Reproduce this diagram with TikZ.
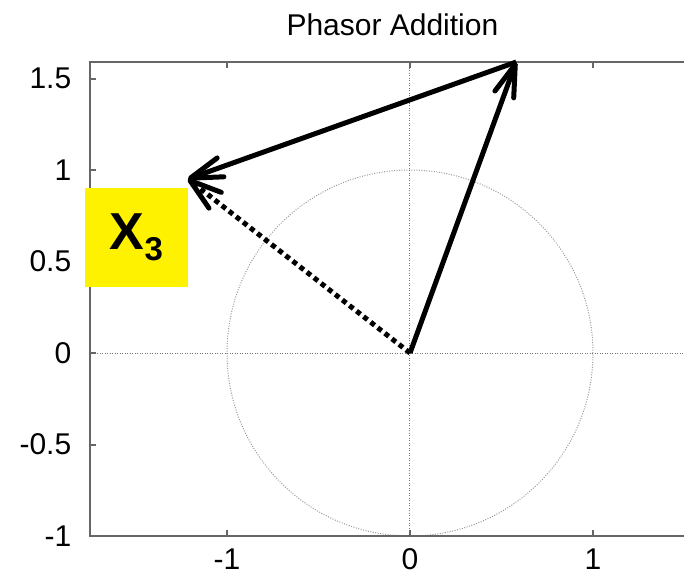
\documentclass[tikz,border=0pt]{standalone}
\usepackage{fontspec}
\setmainfont{Liberation Sans}
\usetikzlibrary{arrows.meta}

\begin{document}
\begin{tikzpicture}[x=183pt, y=183pt,
	every node/.style={font=\fontsize{30}{36}\selectfont},
	frame/.style={black!60, line width=2pt},
	guide/.style={black!55, line width=1pt, dash pattern=on 1pt off 1.5pt},
	phasor/.style={line width=5pt, -{Straight Barb[length=32pt,width=20pt,round]}}]
	\useasboundingbox (-2.2404,-1.2131) rectangle (1.4973,1.929);
	% unit circle and zero lines
	\draw[guide, black!40] (0,0) circle (1);
	\draw[guide] (-1.75,0) -- (1.6,0);
	\draw[guide] (0,-1) -- (0,1.59);
	% axes
	\draw[frame] (1.6,-1) -| (-1.75,1.59) -- (1.6,1.59);
	\foreach \x [count=\i] in {-1,0,1} {\draw[frame] (\x,-1) -- ++(0,0.035); \draw[frame] (\x,1.59) -- ++(0,-0.035); \node[anchor=base, inner sep=0] (xtick\i) at (\x,-1.185) {\x};}
	\foreach \y [count=\i] in {-1,-0.5,0,0.5,1,1.5} {\draw[frame] (-1.75,\y) -- ++(0.035,0); \node[anchor=east, inner sep=0] (ytick\i) at (-1.85,\y) {\y};}
	\node[inner sep=0] (title) at (-0.096,1.792) {Phasor Addition};
	% phasors
	\coordinate (O) at (0,0);
	\coordinate (X1) at (0.58,1.59);
	\coordinate (X3) at (-1.213,0.951);
	\draw[phasor, dash pattern=on 5pt off 4pt] (O) -- (X3);
	\draw[phasor] (O) -- (X1);
	\draw[phasor] (X1) -- (X3);
	\node[fill=yellow, minimum width=103pt, minimum height=99pt, inner sep=0, font=\fontsize{52}{60}\selectfont\bfseries] (x3label) at (-1.4945,0.6311) {X\raisebox{-11pt}{\fontsize{33}{36}\selectfont 3}};
\end{tikzpicture}
\end{document}
